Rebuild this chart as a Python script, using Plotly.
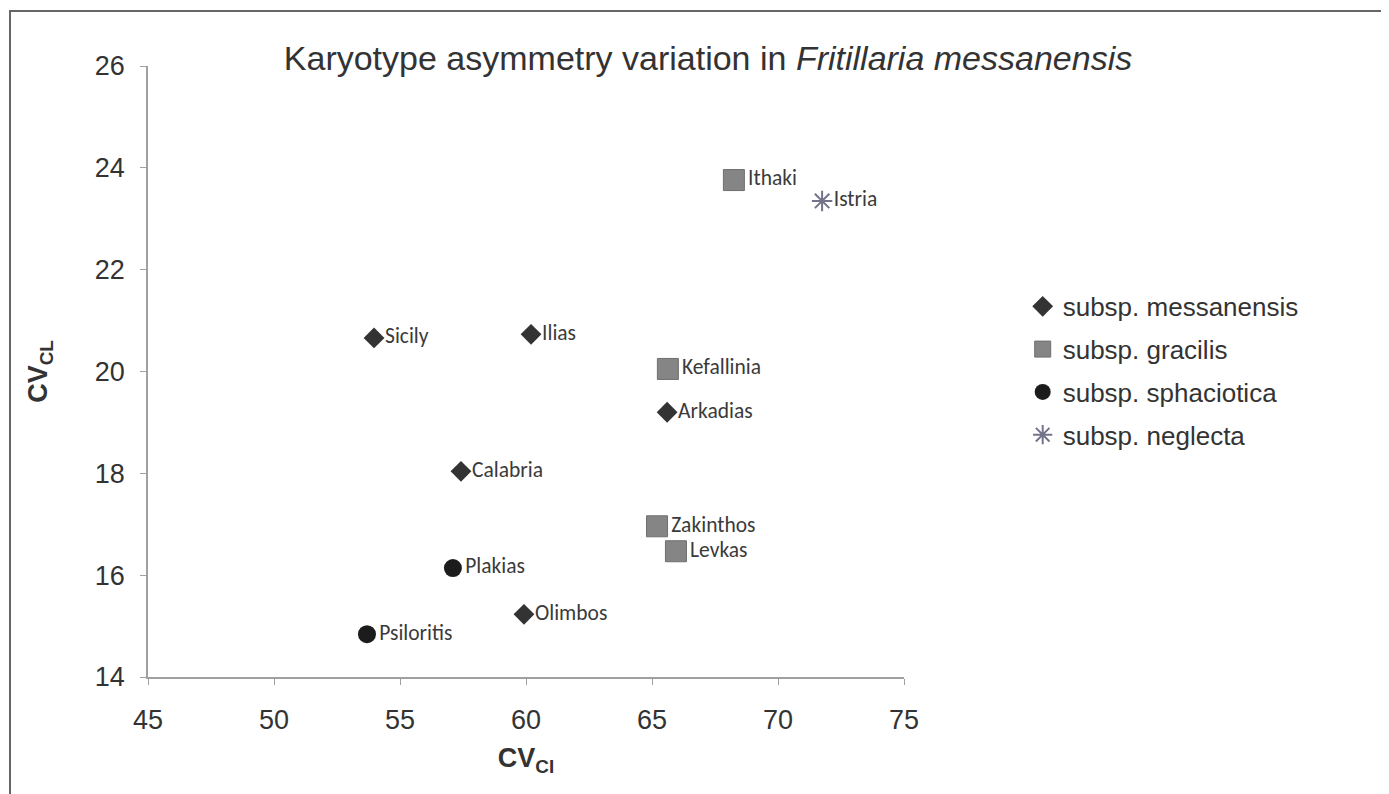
import plotly.graph_objects as go

# ---- data ----
mess_names = ["Sicily", "Ilias", "Arkadias", "Calabria", "Olimbos"]
mess_x = [53.97, 60.2, 65.6, 57.42, 59.92]
mess_y = [20.66, 20.73, 19.2, 18.04, 15.23]

grac_names = ["Ithaki", "Kefallinia", "Zakinthos", "Levkas"]
grac_x = [68.25, 65.63, 65.2, 65.95]
grac_y = [23.76, 20.05, 16.96, 16.47]

spha_names = ["Plakias", "Psiloritis"]
spha_x = [57.1, 53.69]
spha_y = [16.14, 14.84]

negl_names = ["Istria"]
negl_x = [71.75]
negl_y = [23.35]

x_ticks = [45, 50, 55, 60, 65, 70, 75]
y_ticks = [14, 16, 18, 20, 22, 24, 26]

LABEL_FONT = dict(family="Carlito, Lato, sans-serif", size=21.5, color="#3a3a3a")
ARIAL = "Liberation Sans, Arial, sans-serif"

fig = go.Figure()

fig.add_trace(go.Scatter(
    x=mess_x, y=mess_y, text=mess_names, mode="markers+text",
    name="subsp. messanensis", legendgroup="a", textposition="middle right",
    textfont=LABEL_FONT,
    marker=dict(symbol="diamond", size=16, color="#333333"),
))
fig.add_trace(go.Scatter(
    x=grac_x, y=grac_y, text=grac_names, mode="markers+text",
    name="subsp. gracilis", legendgroup="b", textposition="middle right",
    textfont=LABEL_FONT,
    marker=dict(symbol="square", size=21, color="#858585",
                line=dict(color="#6f6f6f", width=1)),
))
fig.add_trace(go.Scatter(
    x=spha_x, y=spha_y, text=spha_names, mode="markers+text",
    name="subsp. sphaciotica", legendgroup="c", textposition="middle right",
    textfont=LABEL_FONT,
    marker=dict(symbol="circle", size=18, color="#1c1c1c"),
))
fig.add_trace(go.Scatter(
    x=negl_x, y=negl_y, text=negl_names, mode="markers+text",
    name="subsp. neglecta", legendgroup="d", textposition="middle right",
    textfont=LABEL_FONT,
    marker=dict(symbol="asterisk-open", size=17,
                line=dict(color="#73738a", width=2), color="#73738a"),
))

axis_common = dict(
    showgrid=False, zeroline=False, showline=True, linecolor="#a0a0a0",
    linewidth=1.5, ticks="outside", ticklen=6, tickcolor="#a0a0a0",
    tickfont=dict(family=ARIAL, size=27, color="#333333"),
)

# page body has an 8px margin: figure placed at (8, 8)
W, H = 1381, 786

fig.update_layout(
    width=W, height=H,
    paper_bgcolor="white", plot_bgcolor="white",
    margin=dict(l=140, r=485, t=58, b=117),
    showlegend=True,
    legend=dict(
        x=1.157, y=0.645, xanchor="left", yanchor="top",
        font=dict(family=ARIAL, size=26, color="#333333"),
        itemwidth=30, tracegroupgap=6, bgcolor="rgba(0,0,0,0)",
    ),
    title=dict(
        text="Karyotype asymmetry variation in <i>Fritillaria messanensis</i>",
        x=(708 - 8) / W, xref="container", xanchor="center",
        y=1 - (58 - 8) / H, yref="container", yanchor="middle",
        font=dict(family="Liberation Sans Narrow, Liberation Sans, Arial, sans-serif",
                  size=34, color="#333333"),
    ),
    xaxis=dict(
        range=[45, 75], tickvals=x_ticks, ticktext=[str(v) for v in x_ticks],
        ticklabelstandoff=12,
        title=dict(text="<b>CV<sub>CI</sub></b>", standoff=14,
                   font=dict(family=ARIAL, size=27, color="#333333")),
        **axis_common,
    ),
    yaxis=dict(
        range=[14, 26], tickvals=y_ticks, ticktext=[str(v) for v in y_ticks],
        ticklabelstandoff=10,
        title=dict(text="<b>CV<sub>CL</sub></b>", standoff=39,
                   font=dict(family=ARIAL, size=27, color="#333333")),
        **axis_common,
    ),
    shapes=[dict(
        type="rect", xref="paper", yref="paper",
        x0=(10 - 148) / 756, x1=(1400 - 148) / 756,
        y0=1 - (800 - 66) / 611, y1=1 + (66 - 11) / 611,
        line=dict(color="#666666", width=2), fillcolor="rgba(0,0,0,0)",
        layer="below",
    )],
)

fig.write_html("out.html")
